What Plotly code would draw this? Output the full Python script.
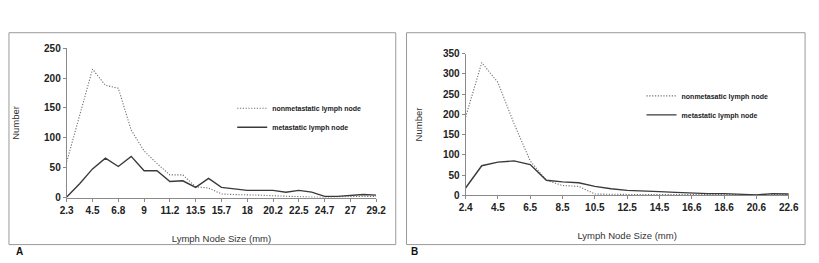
import plotly.graph_objects as go

# ---------------- data ----------------
sizes_a = ["2.3", "3.4", "4.5", "5.7", "6.8", "7.9", "9", "10.1", "11.2", "12.4", "13.5", "14.6",
           "15.7", "16.9", "18", "19.1", "20.2", "21.4", "22.5", "23.6", "24.7", "25.9", "27", "28.1", "29.2"]
nonmet_a = [60, 138, 215, 188, 183, 113, 78, 57, 38, 38, 18, 16, 6, 5, 5, 4, 3, 2, 2, 1, 0, 1, 2, 2, 2]
met_a = [1, 23, 48, 66, 52, 69, 45, 45, 27, 28, 17, 32, 17, 14, 12, 12, 12, 9, 12, 9, 2, 2, 3, 5, 4]
ticks_a = sizes_a[::2]

sizes_b = ["2.4", "3.4", "4.5", "5.5", "6.5", "7.5", "8.5", "9.5", "10.5", "11.5", "12.5", "13.5",
           "14.5", "15.5", "16.6", "17.6", "18.6", "19.6", "20.6", "21.6", "22.6"]
nonmet_b = [193, 328, 279, 177, 85, 37, 24, 22, 3, 2, 2, 2, 2, 3, 3, 3, 3, 2, 1, 2, 2]
met_b = [18, 73, 82, 85, 76, 37, 33, 31, 22, 16, 12, 11, 9, 7, 5, 4, 4, 3, 1, 4, 3]
ticks_b = sizes_b[::2]

FONT = "Liberation Sans, Arial, sans-serif"
W, H = 819, 263

fig = go.Figure()

dot_style = dict(color="#707070", width=1.1, dash="1.2px,1.6px")
solid_style = dict(color="#3a3a3a", width=1.4)

fig.add_trace(go.Scatter(x=sizes_a, y=nonmet_a, mode="lines", line=dot_style,
                         name="nonmetastatic lymph node", xaxis="x", yaxis="y", legend="legend"))
fig.add_trace(go.Scatter(x=sizes_a, y=met_a, mode="lines", line=solid_style,
                         name="metastatic lymph node", xaxis="x", yaxis="y", legend="legend"))
fig.add_trace(go.Scatter(x=sizes_b, y=nonmet_b, mode="lines", line=dot_style,
                         name="nonmetasatic lymph node", xaxis="x2", yaxis="y2", legend="legend2"))
fig.add_trace(go.Scatter(x=sizes_b, y=met_b, mode="lines", line=solid_style,
                         name="metastatic lymph node", xaxis="x2", yaxis="y2", legend="legend2"))

tickfont = dict(family=FONT, size=10, color="#222", weight="bold")
titlefont = dict(family=FONT, size=9.5, color="#333")

common_x = dict(type="category", showgrid=False, zeroline=False, showline=True, linecolor="#8a8a8a",
                linewidth=1, ticks="outside", ticklen=3, tickcolor="#8a8a8a", tickfont=tickfont,
                title=dict(text="Lymph Node Size (mm)", font=titlefont, standoff=20))
common_y = dict(showgrid=False, zeroline=False, showline=True, linecolor="#8a8a8a", linewidth=1,
                ticks="outside", ticklen=3, tickcolor="#8a8a8a", tickfont=tickfont, tickmode="linear",
                tick0=0, dtick=50)

legfont = dict(family=FONT, size=7, color="#222", weight="bold")

fig.update_layout(
    width=W, height=H, margin=dict(l=0, r=0, t=0, b=0),
    paper_bgcolor="white", plot_bgcolor="white",
    xaxis=dict(common_x, domain=[61 / W, 377 / W], range=[0, len(sizes_a) - 1],
               tickvals=ticks_a, ticktext=ticks_a, anchor="y"),
    yaxis=dict(common_y, domain=[(H - 200.7) / H, (H - 44.3) / H], range=[0, 250], anchor="x",
               title=dict(text="Number", font=titlefont, standoff=22)),
    xaxis2=dict(common_x, domain=[468.3 / W, 798.3 / W], range=[0, len(sizes_b) - 1],
                tickvals=ticks_b, ticktext=ticks_b, anchor="y2"),
    yaxis2=dict(common_y, domain=[(H - 198.3) / H, (H - 50) / H], range=[0, 350], anchor="x2",
                title=dict(text="Number", font=titlefont, standoff=18)),
    legend=dict(x=230 / W, y=(H - 92) / H, xanchor="left", yanchor="top", font=legfont,
                bgcolor="rgba(0,0,0,0)", tracegroupgap=0),
    legend2=dict(x=648 / W, y=(H - 79) / H, xanchor="left", yanchor="top", font=legfont,
                 bgcolor="rgba(0,0,0,0)", tracegroupgap=0),
    shapes=[
        dict(type="rect", xref="paper", yref="paper", x0=2 / W, x1=397 / W, y0=(H - 250) / H, y1=(H - 28) / H,
             line=dict(color="#9a9a9a", width=1)),
        dict(type="rect", xref="paper", yref="paper", x0=408 / W, x1=815 / W, y0=(H - 250) / H, y1=(H - 28) / H,
             line=dict(color="#9a9a9a", width=1)),
    ],
    annotations=[
        dict(text="A", xref="paper", yref="paper", x=7 / W, y=(H - 257) / H, xanchor="left", yanchor="middle",
             showarrow=False, font=dict(family=FONT, size=10, color="#111", weight="bold")),
        dict(text="B", xref="paper", yref="paper", x=411 / W, y=(H - 257) / H, xanchor="left", yanchor="middle",
             showarrow=False, font=dict(family=FONT, size=10, color="#111", weight="bold")),
    ],
)

fig.write_html("out.html")
